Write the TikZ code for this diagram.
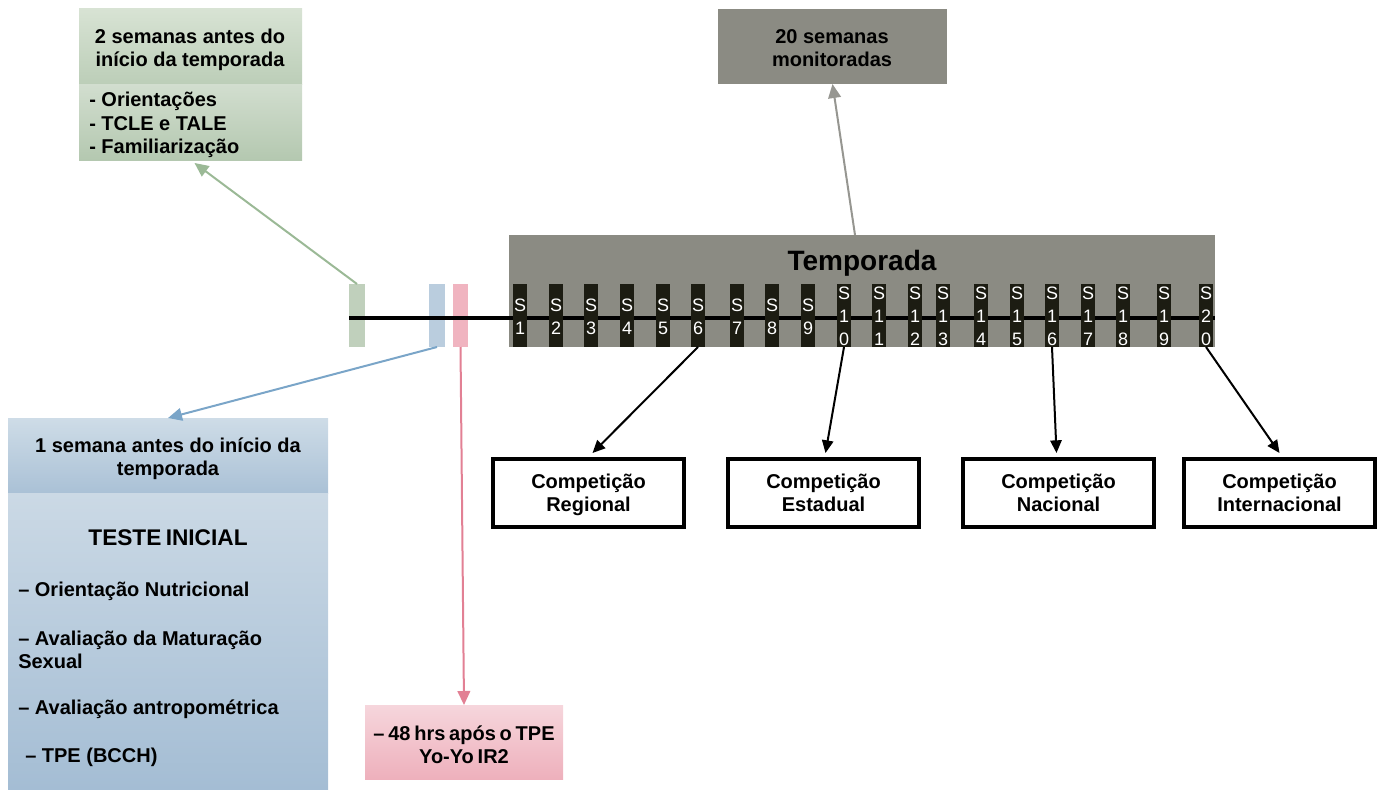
\documentclass[tikz,border=0pt]{standalone}
\usepackage{fontspec}
\setmainfont{Liberation Sans}
\usetikzlibrary{arrows.meta,calc}

\definecolor{grnA}{RGB}{216,227,212}
\definecolor{grnB}{RGB}{188,206,184}
\definecolor{grnC}{RGB}{210,222,207}
\definecolor{grnD}{RGB}{180,200,176}
\definecolor{grnMark}{RGB}{192,208,188}
\definecolor{grnLine}{RGB}{155,185,150}
\definecolor{bluA}{RGB}{206,220,231}
\definecolor{bluB}{RGB}{170,193,214}
\definecolor{bluC}{RGB}{203,217,229}
\definecolor{bluD}{RGB}{164,189,212}
\definecolor{bluMark}{RGB}{186,205,222}
\definecolor{bluLine}{RGB}{122,165,200}
\definecolor{pnkA}{RGB}{246,214,220}
\definecolor{pnkB}{RGB}{238,176,188}
\definecolor{pnkMark}{RGB}{240,180,192}
\definecolor{pnkLine}{RGB}{226,128,148}
\definecolor{gryBox}{RGB}{139,139,131}
\definecolor{gryLine}{RGB}{150,150,145}
\definecolor{weekBar}{RGB}{28,28,18}

% narrower inter-word spacing for compact labels
\newcommand\narrowspaces{\spaceskip=0.19em\relax}

\begin{document}
\begin{tikzpicture}[x=0.75pt,y=-0.75pt,
  font={\bfseries\fontsize{15}{17.5}\selectfont},
  panel/.style={inner sep=0pt, outer sep=0pt, draw=none},
  tickmark/.style={panel, minimum width=12pt, minimum height=47.25pt},
  weekbox/.style={panel, fill=weekBar, minimum width=11pt, minimum height=47.25pt},
  weeklbl/.style={inner sep=0pt, text=white, align=center,
    font={\mdseries\fontsize{13.5}{17.3}\selectfont}},
  compbox/.style={draw=black, line width=3pt, fill=white,
    inner sep=0pt, minimum width=143pt, minimum height=51pt},
  txt/.style={inner sep=0pt, align=center},
  ltxt/.style={inner sep=0pt, align=left, anchor=west},
  tight/.style={font={\bfseries\fontsize{15}{17.5}\selectfont\narrowspaces}},
  colarrow/.style={line width=1.5pt, -{Triangle[length=10.5pt,width=9.5pt]}},
  blkarrow/.style={line width=1.5pt, draw=black, -{Triangle[length=9.5pt,width=8.5pt]}}
]
\useasboundingbox (0,0) rectangle (1384,789);

% pre-season panel, two weeks ahead
\node[panel, minimum width=167.25pt, minimum height=57pt, top color=grnA, bottom color=grnB] (gtop) at (190.5,46) {};
\node[panel, minimum width=167.25pt, minimum height=57pt, top color=grnC, bottom color=grnD] (gbody) at (190.5,122) {};
\node[txt] (gtoptxt) at (190,50) {2 semanas antes do\\início da temporada};
\node[ltxt] (gbodytxt) at (89,125) {- Orientações\\- TCLE e TALE\\- Familiarização};

% monitored weeks panel
\node[panel, minimum width=171.75pt, minimum height=56.25pt, fill=gryBox] (mon) at (832.5,46.5) {};
\node[txt] (montxt) at (832,48) {20 semanas\\monitoradas};

% pre-season panel, one week ahead
\node[panel, minimum width=240pt, minimum height=56.25pt, top color=bluA, bottom color=bluB] (btop) at (168,455.5) {};
\node[panel, minimum width=240pt, minimum height=222pt, top color=bluC, bottom color=bluD] (bbody) at (168,641) {};
\node[txt] (btoptxt) at (168,459) {1 semana antes do início da\\temporada};
\node[txt, font={\bfseries\fontsize{17}{20}\selectfont\narrowspaces}] (teste) at (168,538) {TESTE INICIAL};
\node[ltxt] (b1) at (18,591) {– Orientação Nutricional};
\node[ltxt] (b2) at (18,650) {– Avaliação da Maturação\\Sexual};
\node[ltxt] (b3) at (18,709) {– Avaliação antropométrica};
\node[ltxt] (b4) at (25,757) {– TPE (BCCH)};

% follow-up test panel
\node[panel, minimum width=148.5pt, minimum height=55.5pt, top color=pnkA, bottom color=pnkB] (pbox) at (464,742) {};
\node[txt, tight] (ptxt) at (464,745) {– 48 hrs após o TPE\\Yo-Yo IR2};

% season block
\node[panel, minimum width=529.5pt, minimum height=84pt, fill=gryBox] (season) at (862,291) {};
\node[txt, font={\bfseries\fontsize{21}{24}\selectfont}] (seasontxt) at (862,263) {Temporada};

% timeline markers
\node[tickmark, fill=grnMark] (gmark) at (357,315.5) {};
\node[tickmark, fill=bluMark] (bmark) at (437,315.5) {};
\node[tickmark, fill=pnkMark, minimum width=11.25pt] (pmark) at (460.5,315.5) {};

% timeline
\coordinate (tl0) at (349,318);
\coordinate (tl1) at (1215,318);
\draw[line width=3pt, black] (tl0) -- (tl1);

% weekly bars
\foreach \i/\xc in {1/520,2/556,3/591,4/627,5/663,6/698,7/737,8/772,9/808}{
  \node[weekbox] (w\i) at (\xc,315.5) {};
  \node[weeklbl] (lw\i) at (\xc,316.5) {S\\\i};
}
\foreach \i/\xc/\a/\b in {10/844/1/0,11/879/1/1,12/915/1/2,13/943/1/3,14/981/1/4,
  15/1017/1/5,16/1052/1/6,17/1088/1/7,18/1123/1/8,19/1164/1/9,20/1206/2/0}{
  \node[weekbox] (w\i) at (\xc,315.5) {};
  \node[weeklbl] (lw\i) at (\xc,316.5) {S\\\a\\\b};
}

% competitions
\node[compbox] (c1) at (588.5,493) {};
\node[compbox] (c2) at (823.5,493) {};
\node[compbox] (c3) at (1058.5,493) {};
\node[compbox] (c4) at (1279.5,493) {};
\node[txt] (c1txt) at (588.5,496) {Competição\\Regional\strut};
\node[txt] (c2txt) at (823.5,496) {Competição\\Estadual\strut};
\node[txt] (c3txt) at (1058.5,496) {Competição\\Nacional\strut};
\node[txt] (c4txt) at (1279.5,496) {Competição\\Internacional\strut};

% connectors
\draw[colarrow, grnLine] (gmark.north) -- ($(gbody.south)+(4,3)$);
\draw[colarrow, bluLine] (bmark.south) -- (btop.north);
\draw[colarrow, pnkLine] (pmark.south) -- (pbox.north);
\draw[colarrow, gryLine] ($(season.north)+(-7,0)$) -- (mon.south);
\draw[blkarrow] (w6.south) -- ($(c1.north)+(4,-4)$);
\draw[blkarrow] (w10.south) -- ($(c2.north)+(2,-4)$);
\draw[blkarrow] (w16.south) -- ($(c3.north)+(-2,-4)$);
\draw[blkarrow] (w20.south) -- ($(c4.north)+(0,-4)$);
\end{tikzpicture}
\end{document}
